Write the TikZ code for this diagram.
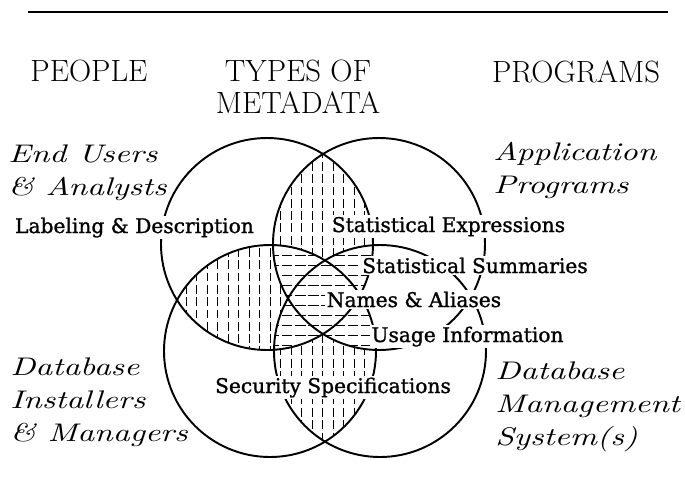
\documentclass[tikz,border=0pt]{standalone}
\usepackage{fontspec}
\usetikzlibrary{positioning}
\newfontfamily\tagfont{DejaVu Serif}[FakeBold=1.2]
\newfontfamily\sidefont{lmroman10-italic.otf}[FakeStretch=1.3]

\begin{document}
\begin{tikzpicture}[
    head/.style={font=\fontsize{17.5}{18.2}\selectfont, align=center, inner sep=0pt, anchor=north},
    side/.style={font=\sidefont\fontsize{14.5}{18.8}\selectfont, align=left, inner sep=0pt, anchor=north west},
    tag/.style={font=\tagfont\fontsize{11.5}{13}\selectfont, fill=white, inner sep=1pt, anchor=base},
    ring/.style={line width=1.1pt},
    vhatch/.style={line width=0.5pt, dash pattern=on 5pt off 2pt},
    hhatch/.style={line width=0.5pt, dash pattern=on 6pt off 1.5pt},
]
\useasboundingbox (0,0) rectangle (13.7,-10.06);
\def\ringr{2.12}

% circle centres
\coordinate (users) at (5.34,-4.88);
\coordinate (apps) at (7.58,-4.88);
\coordinate (dba) at (5.40,-7.02);
\coordinate (dbms) at (7.60,-7.02);

% vertical hatching where two circles meet
\foreach \ca/\cb in {users/apps, users/dba, dba/dbms} {
  \begin{scope}
    \clip (\ca) circle (\ringr);
    \clip (\cb) circle (\ringr);
    \foreach \x in {3.3,3.51,...,9.9}
      \draw[vhatch] (\x,-2.5) -- (\x,-9.5);
  \end{scope}
}

% horizontal hatching where three or more meet
\foreach \ca/\cb/\cc in {users/apps/dba, users/apps/dbms, users/dba/dbms, apps/dba/dbms} {
  \begin{scope}
    \clip (\ca) circle (\ringr);
    \clip (\cb) circle (\ringr);
    \fill[white] (\cc) circle (\ringr);
    \clip (\cc) circle (\ringr);
    \foreach \y in {-4.9,-5.1,...,-7.1}
      \draw[hhatch] (3,\y) -- (10,\y);
  \end{scope}
}

% circles
\foreach \c in {users, apps, dba, dbms}
  \draw[ring] (\c) circle (\ringr);

% rule
\draw[line width=1.2pt] (0.56,-0.24) -- (13.36,-0.24);

% headings
\node[head] (people) at (1.78,-1.20) {PEOPLE};
\node[head] (types) at (5.96,-1.20) {TYPES OF\\METADATA};
\node[head] (programs) at (11.52,-1.20) {PROGRAMS};

% groups
\node[side] (enduser) at (0.16,-2.88) {End Users\\\& Analysts};
\node[side] (installer) at (0.20,-7.14) {Database\\Installers\\\& Managers};
\node[side] (appprog) at (9.86,-2.84) {Application\\Programs};
\node[side] (dbsystem) at (9.90,-7.22) {Database\\Management\\System(s)};

% metadata types
\node[tag] (labeling) at (2.69,-4.66) {Labeling \& Description};
\node[tag] (expr) at (8.97,-4.64) {Statistical Expressions};
\node[tag] (summ) at (9.50,-5.46) {Statistical Summaries};
\node[tag] (names) at (8.28,-6.14) {Names \& Aliases};
\node[tag] (usage) at (9.35,-6.84) {Usage Information};
\node[tag] (security) at (6.66,-7.86) {Security Specifications};
\end{tikzpicture}
\end{document}
